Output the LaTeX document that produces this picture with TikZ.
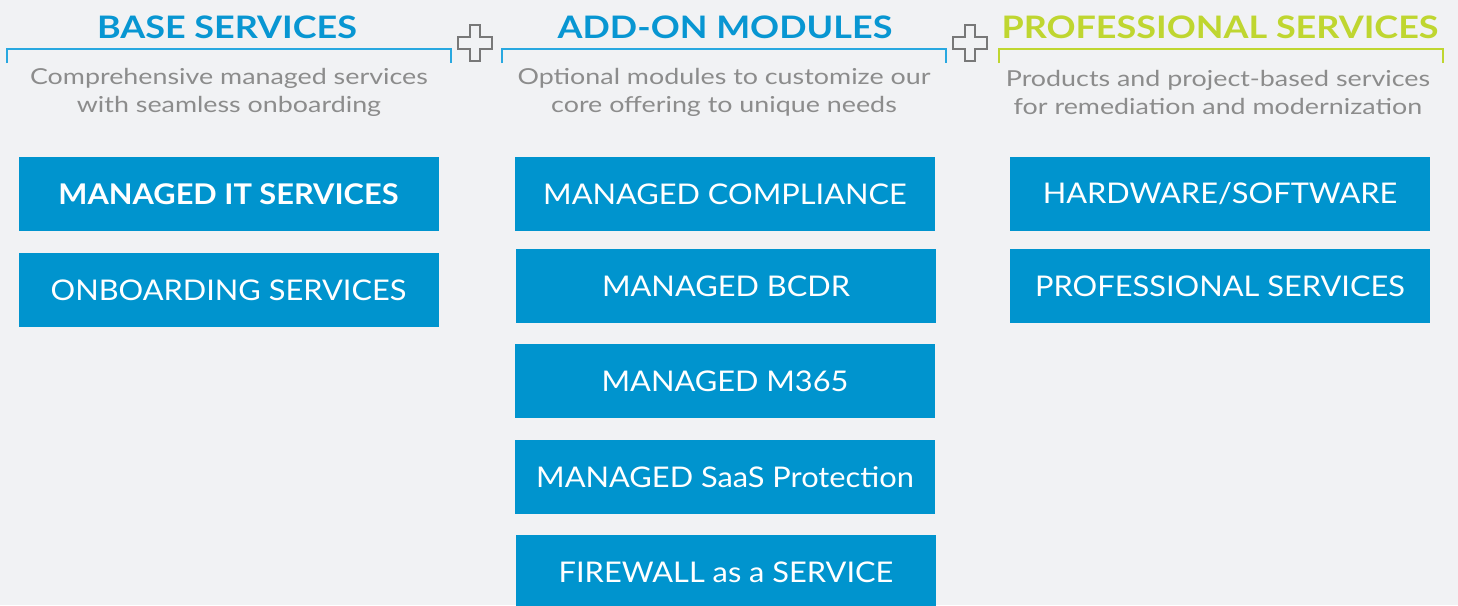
\documentclass[tikz,border=0pt]{standalone}
\usepackage{fontspec}
\setmainfont{Lato}
\newfontfamily\headfont[FakeStretch=1.16]{Lato}
\newfontfamily\subfont[FakeStretch=1.22]{Lato}
\newfontfamily\boxfont[FakeStretch=1.08]{Lato}
\usetikzlibrary{positioning}

\definecolor{bgcol}{RGB}{241,242,244}
\definecolor{boxblue}{RGB}{0,148,206}
\definecolor{headblue}{RGB}{8,150,210}
\definecolor{linkblue}{RGB}{40,168,224}
\definecolor{headgreen}{RGB}{191,214,48}
\definecolor{subgray}{RGB}{140,140,140}
\definecolor{plusgray}{RGB}{120,120,120}

% outline of a plus sign, centred on #1
\newcommand*{\plusmark}[1]{%
  \draw[plusgray,line width=1.5pt,line join=miter] #1
    ++(-5,-18) -- ++(10,0) -- ++(0,12) -- ++(12,0) -- ++(0,12)
    -- ++(-12,0) -- ++(0,12) -- ++(-10,0) -- ++(0,-12) -- ++(-12,0)
    -- ++(0,-12) -- ++(12,0) -- cycle;}

\begin{document}
\begin{tikzpicture}
[
	x=1pt,y=-1pt,
	head/.style={font=\headfont\fontsize{31}{31}\selectfont\bfseries,inner sep=0pt},
	subline/.style={subgray,align=center,inner sep=0pt,font=\subfont\fontsize{22}{28}\selectfont},
	modbox/.style={fill=boxblue,text=white,minimum width=420pt,minimum height=74pt,
		inner sep=0pt,font=\boxfont\fontsize{28.5}{28}\selectfont},
	bracket/.style={line width=2pt}
]

	% background
	\fill[bgcol] (0,0) rectangle (1458,605);
	\useasboundingbox (0,0) rectangle (1458,605);

	% headings
	\node[head,headblue]  (base)  at (227,27)  {BASE SERVICES};
	\node[head,headblue]  (addon) at (725,27)  {ADD-ON MODULES};
	\node[head,headgreen] (prof)  at (1220,27) {PROFESSIONAL SERVICES};

	% brackets under headings
	\draw[bracket,linkblue]  (7,63)   -- (7,49)   -- (451,49)  -- (451,63);
	\draw[bracket,linkblue]  (502,63) -- (502,49) -- (946,49)  -- (946,63);
	\draw[bracket,headgreen] (999,63) -- (999,49) -- (1443,49) -- (1443,63);

	\plusmark{(475,43)}
	\plusmark{(970,43)}

	% descriptions
	\node[subline] (basetxt)  at (229,92)  {Comprehensive managed services\\with seamless onboarding};
	\node[subline] (addontxt) at (724,92)  {Optional modules to customize our\\core offering to unique needs};
	\node[subline] (proftxt)  at (1218,92) {Products and project-based services\\for remediation and modernization};

	% base services
	\node[modbox,font=\boxfont\fontsize{28.5}{28}\selectfont\bfseries] (mit) at (228.5,194) {MANAGED IT SERVICES};
	\node[modbox] (onb) at (228.5,290) {ONBOARDING SERVICES};

	% add-on modules
	\node[modbox] (comp) at (725,194) {MANAGED COMPLIANCE};
	\node[modbox] (bcdr) at (726,286) {MANAGED BCDR};
	\node[modbox] (m365) at (725,381) {MANAGED M365};
	\node[modbox] (saas) at (725,477) {MANAGED SaaS Protection};
	\node[modbox] (fwaas) at (726,572) {FIREWALL as a SERVICE};

	% professional services
	\node[modbox] (hwsw) at (1220,194) {HARDWARE/SOFTWARE};
	\node[modbox] (psvc) at (1220,286) {PROFESSIONAL SERVICES};

\end{tikzpicture}
\end{document}
